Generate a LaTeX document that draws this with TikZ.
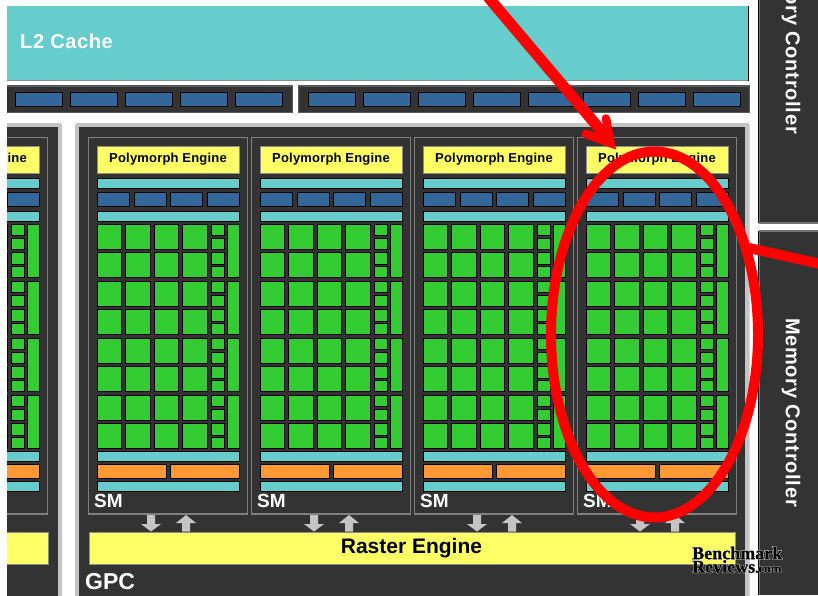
\documentclass[tikz,border=0pt]{standalone}
\usepackage{fontspec}
\setmainfont{Liberation Sans}
\newfontfamily\logofont{Liberation Serif}
\definecolor{dk}{HTML}{333333}
\definecolor{cy}{HTML}{66CCCC}
\definecolor{bl}{HTML}{336699}
\definecolor{gr}{HTML}{33CC33}
\definecolor{ye}{HTML}{FFFF66}
\definecolor{orn}{HTML}{FF9933}
\definecolor{lg}{HTML}{C4C4C4}
\definecolor{rd}{HTML}{FF0000}
\tikzset{
  x=1pt,y=-1pt,
  cyanbar/.style={fill=cy,draw=black,line width=0.6pt},
  bluebox/.style={fill=bl,draw=black,line width=0.9pt},
  greenbox/.style={fill=gr,draw=black,line width=1pt},
  orangebox/.style={fill=orn,draw=black,line width=0.8pt},
  yellowbox/.style={fill=ye,draw=black!45,line width=0.8pt},
  smframe/.style={draw=black!50,line width=1.3pt,fill=dk},
  flowarrow/.style={fill=lg,draw=none},
  whitelabel/.style={text=white,inner sep=0pt},
  logotext/.style={inner sep=0pt,anchor=west},
}
\begin{document}
\begin{tikzpicture}
\useasboundingbox (0,0) rectangle (818,595);
\fill[white] (0,0) rectangle (818,595);
% L2 cache
\fill[cy] (7,6) rectangle (749,81);
\draw[black!45,line width=1.2pt] (7,80.5) -- (748.5,80.5);
\draw[black,line width=0.8pt] (748.5,6) -- (748.5,81);
\node[whitelabel,anchor=west,font=\bfseries\fontsize{20}{20}\selectfont] (l2) at (20,41) {\addfontfeature{LetterSpace=3}L2 Cache};
% strips
\fill[dk] (7,85) rectangle (292,113);
\fill[dk] (298,85) rectangle (749,113);
\draw[black!65,line width=1.6pt] (7,85.8) -- (292,85.8) (298,85.8) -- (749,85.8);
\draw[black!65,line width=1pt] (7,112.5) -- (292,112.5) (292,85) -- (292,113) (298,112.5) -- (749,112.5) (298,85) -- (298,113) (749,85) -- (749,113);
\foreach \x in {15,70,125,180,235,308,363,418,473,528,583,638,693}
  \draw[bluebox] (\x.5,92) rectangle +(47,14.5);
% memory controllers
\fill[dk] (759,0) rectangle (818,223);
\fill[dk] (759,231) rectangle (818,595);
\draw[black!55,line width=1.5pt] (759.5,0) -- (759.5,223) -- (818,223) (818,231) -- (759.5,231) -- (759.5,595);
\draw[black,line width=0.8pt] (758,231) -- (758,595) (758,0) -- (758,223);
\node[whitelabel,rotate=-90,anchor=west,font=\bfseries\fontsize{20}{20}\selectfont] (mc1) at (791,-55) {\addfontfeature{LetterSpace=3.6}Memory Controller};
\node[whitelabel,rotate=-90,anchor=west,font=\bfseries\fontsize{20}{20}\selectfont] (mc2) at (791,318) {\addfontfeature{LetterSpace=3.6}Memory Controller};
% GPC panels
\begin{scope}
\clip (7,0) rectangle (818,595);
\fill[lg,rounded corners=1.5pt] (-200,123) rectangle (62,620);
\fill[dk] (-200,127) rectangle (58,620);
\fill[lg,rounded corners=1.5pt] (75,123) rectangle (749.5,620);
\fill[dk] (79,127) rectangle (745,620);
\foreach \ox in {-200,0,163,326,489}{
  \begin{scope}[xshift=\ox pt]
    \draw[smframe] (88.5,137.5) rectangle (247.5,514);
    \draw[yellowbox] (97,146) rectangle (239.5,173);
    \node[inner sep=0pt,font=\bfseries\fontsize{13}{13}\selectfont,text=black] (poly\ox) at (168,159) {\addfontfeature{LetterSpace=1.5}Polymorph Engine};
    \draw[cyanbar] (97,178) rectangle (239.5,188);
    \foreach \bx/\bw in {97/32,134/32,170.5/32,207.5/32}
      \draw[bluebox] (\bx,192) rectangle +(\bw,14.5);
    \draw[cyanbar] (97,211) rectangle (239.5,221);
    \foreach \r in {0,...,7}{
      \pgfmathsetmacro\yy{224+28.5*\r}
      \foreach \gx in {97,125.5,154,182.5}
        \draw[greenbox] (\gx,\yy) rectangle +(24.5,25);
      \draw[greenbox] (211,\yy) rectangle +(13,11.5);
      \draw[greenbox] (211,\yy+14) rectangle +(13,11);
    }
    \foreach \r in {0,...,3}{
      \pgfmathsetmacro\yt{224+57*\r}
      \draw[greenbox] (227,\yt) rectangle +(12.5,53.5);
    }
    \draw[cyanbar] (97,451) rectangle (239.5,461);
    \draw[orangebox] (97,464) rectangle (166,478);
    \draw[orangebox] (170.5,464) rectangle (239.5,478);
    \draw[cyanbar] (97,481) rectangle (239.5,491);
    \node[whitelabel,anchor=west,font=\bfseries\fontsize{19}{19}\selectfont] (sm\ox) at (94,500.5) {SM};
    \fill[flowarrow] (147,515) -- (155,515) -- (155,524) -- (161,524) -- (151,531.5) -- (141,524) -- (147,524) -- cycle;
    \fill[flowarrow] (182,531.5) -- (190,531.5) -- (190,523) -- (196,523) -- (186,515) -- (176,523) -- (182,523) -- cycle;
  \end{scope}
}
\draw[fill=ye,draw=black!45,line width=0.8pt] (-100,532) rectangle (48,564);
\end{scope}
% raster engine
\draw[fill=ye,draw=black!45,line width=0.8pt] (89,532) rectangle (735.5,564);
\node[inner sep=0pt,font=\bfseries\fontsize{21}{21}\selectfont] (raster) at (411.5,548.5) {Raster Engine};
\node[whitelabel,anchor=west,font=\bfseries\fontsize{23}{23}\selectfont] (gpc) at (85,581.5) {GPC};
% logo: white halo below, black lettering above
\node[logotext,text=white,font=\logofont\bfseries\fontsize{18}{18}\selectfont] (logoa) at (692,553) {\addfontfeature{FakeBold=5}Benchmark};
\node[logotext,text=white,font=\logofont\bfseries\fontsize{18}{18}\selectfont] (logob) at (692,566.5) {\addfontfeature{FakeBold=5}Reviews{\fontsize{13}{13}\selectfont.com}};
\node[logotext,text=black,font=\logofont\bfseries\fontsize{18}{18}\selectfont] (logo1) at (692,553) {\addfontfeature{FakeBold=1}Benchmark};
\node[logotext,text=black,font=\logofont\bfseries\fontsize{18}{18}\selectfont] (logo2) at (692,566.5) {\addfontfeature{FakeBold=1}Reviews{\fontsize{13}{13}\selectfont.com}};
% red marks
\draw[rd,line width=11pt] (488,-3) -- (609,140);
\draw[rd,line width=8.5pt,line cap=round,line join=miter] (606,118.5) -- (610.5,143) -- (586,134);
\draw[rd,line width=10pt] (654.5,334.5) ellipse [x radius=103.5,y radius=183];
\draw[rd,line width=10pt] (749,248) -- (823,264.5);
\end{tikzpicture}
\end{document}
